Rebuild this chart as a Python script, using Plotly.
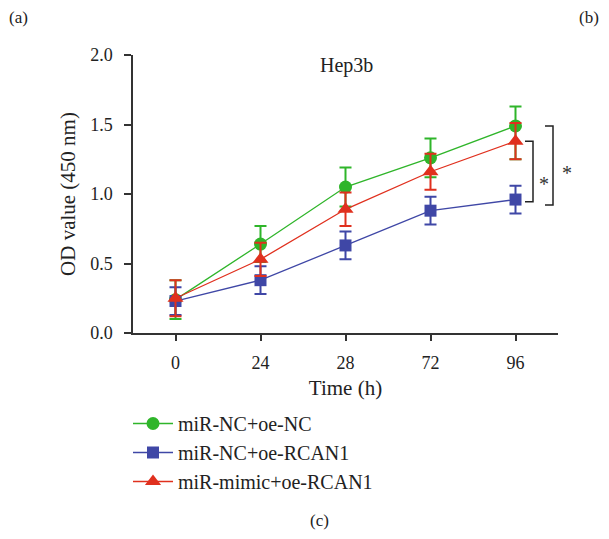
import plotly.graph_objects as go

# Data
time_labels = ['0', '24', '28', '72', '96']

nc_nc = [0.24, 0.64, 1.05, 1.26, 1.49]
nc_nc_err = [0.14, 0.13, 0.14, 0.14, 0.14]
nc_nc_err_minus = [0.14, 0.13, 0.14, 0.14, 0.24]

nc_rcan1 = [0.23, 0.38, 0.63, 0.88, 0.96]
nc_rcan1_err = [0.10, 0.10, 0.10, 0.10, 0.10]

mimic_rcan1 = [0.25, 0.53, 0.89, 1.16, 1.38]
mimic_rcan1_err = [0.13, 0.12, 0.12, 0.13, 0.13]

names = ['miR-NC+oe-NC', 'miR-NC+oe-RCAN1', 'miR-mimic+oe-RCAN1']
colors = ['#2fb52a', '#3f47a6', '#e0301e']

FONT = 'Liberation Serif'

# plot area in page pixels (page body adds an 8px offset)
L, R, T, B = 133, 558, 55, 333


def px(x, y):
    return (x - L) / (R - L), (B - y) / (B - T)


fig = go.Figure()

fig.add_trace(go.Scatter(
    x=time_labels, y=nc_nc, name=names[0], mode='lines+markers',
    line=dict(color=colors[0], width=1.3),
    marker=dict(symbol='circle', size=13, color=colors[0]),
    error_y=dict(type='data', array=nc_nc_err, arrayminus=nc_nc_err_minus,
                 color=colors[0], thickness=2, width=6),
))
fig.add_trace(go.Scatter(
    x=time_labels, y=nc_rcan1, name=names[1], mode='lines+markers',
    line=dict(color=colors[1], width=1.3),
    marker=dict(symbol='square', size=12, color=colors[1]),
    error_y=dict(type='data', array=nc_rcan1_err,
                 color=colors[1], thickness=2, width=6),
))
fig.add_trace(go.Scatter(
    x=time_labels, y=mimic_rcan1, name=names[2], mode='lines+markers',
    line=dict(color=colors[2], width=1.3),
    marker=dict(symbol='triangle-up', size=14, color=colors[2]),
    error_y=dict(type='data', array=mimic_rcan1_err,
                 color=colors[2], thickness=2, width=6),
))


# significance brackets at 96 h
def bracket(x0, x1, top, bottom):
    fig.add_shape(type='path', xref='paper', yref='y',
                  path=f'M {x0},{top} L {x1},{top} L {x1},{bottom} L {x0},{bottom}',
                  line=dict(color='#222222', width=1.5))


bracket(px(525, 0)[0], px(533, 0)[0], mimic_rcan1[-1], nc_rcan1[-1] - 0.015)
bracket(px(545, 0)[0], px(553, 0)[0], nc_nc[-1], nc_rcan1[-1] - 0.04)

for sx, sy in [(544, 184), (567, 173)]:
    ax, ay = px(sx, sy)
    fig.add_annotation(x=ax, y=ay, xref='paper', yref='paper', text='*',
                       showarrow=False, xanchor='center', yanchor='middle',
                       font=dict(family=FONT, size=20, color='#333333'))

# panel labels and title
for txt, tx, ty, size in [('(a)', 18, 18, 17), ('(b)', 589, 18, 17),
                          ('(c)', 319, 520, 17), ('Hep3b', 346, 66, 20)]:
    ax, ay = px(tx, ty)
    fig.add_annotation(x=ax, y=ay, xref='paper', yref='paper', text=txt,
                       showarrow=False, xanchor='center', yanchor='middle',
                       font=dict(family=FONT, size=size, color='#222222'))

lx, ly = px(128, 404)

fig.update_layout(
    width=609 - 8, height=539 - 8,
    margin=dict(l=L - 8, r=609 - R, t=T - 8, b=539 - B),
    paper_bgcolor='white', plot_bgcolor='white',
    font=dict(family=FONT, size=18, color='#222222'),
    showlegend=True,
    legend=dict(x=lx, y=ly, xanchor='left', yanchor='top',
                font=dict(family=FONT, size=20), itemwidth=40,
                tracegroupgap=0, bgcolor='rgba(0,0,0,0)'),
    xaxis=dict(type='category', range=[-0.5, 4.5], showline=True,
               linecolor='#333333', linewidth=1.5, ticks='outside', ticklen=6,
               tickcolor='#333333', tickwidth=1.5, showgrid=False, zeroline=False,
               ticklabelstandoff=7, tickfont=dict(size=18),
               title=dict(text='Time (h)', standoff=8, font=dict(size=21))),
    yaxis=dict(range=[0, 2.0], dtick=0.5, tickformat='.1f', showline=True,
               linecolor='#333333', linewidth=1.5, ticks='outside', ticklen=7,
               tickcolor='#333333', tickwidth=1.5, showgrid=False, zeroline=False,
               ticklabelstandoff=8, tickfont=dict(size=18),
               title=dict(text='OD value (450 nm)', standoff=9, font=dict(size=21))),
)

fig.write_html("out.html")
